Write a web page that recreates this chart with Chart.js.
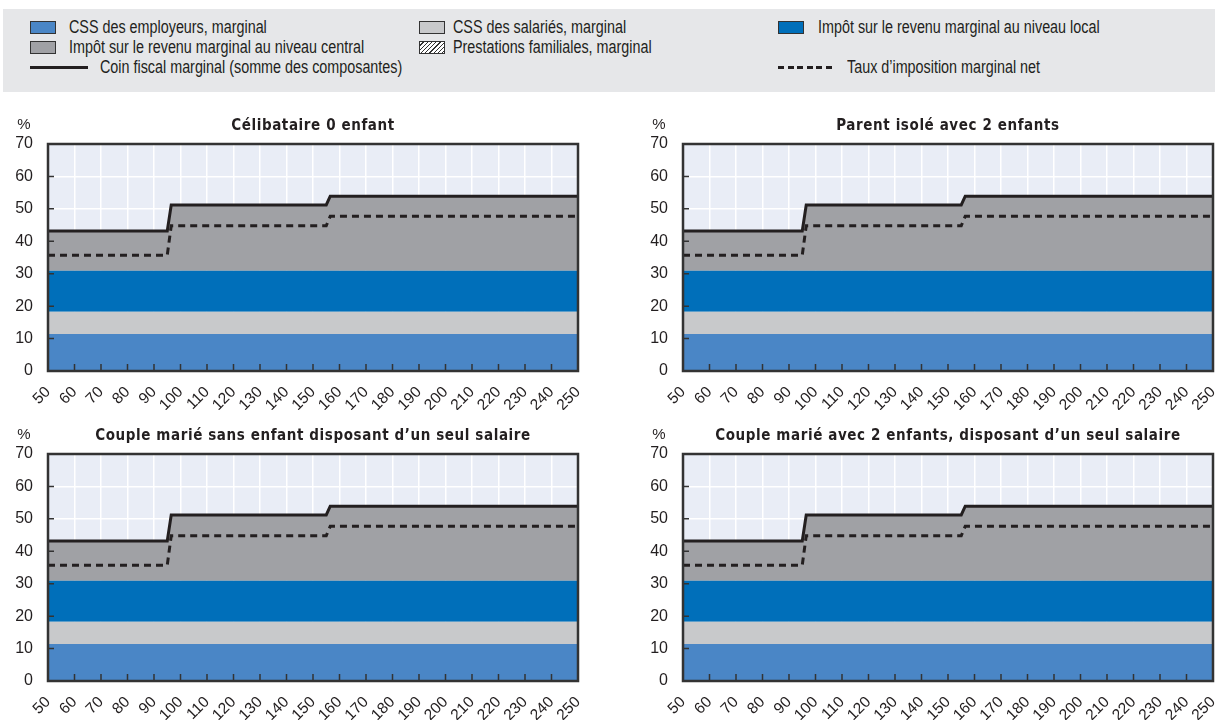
<!DOCTYPE html>
<html lang="fr">
<head>
<meta charset="utf-8">
<script src="https://cdn.jsdelivr.net/npm/chart.js@4.4.1/dist/chart.umd.min.js"></script>
<style>
  body { margin: 0; width: 1218px; height: 722px; background: #fff; position: relative; overflow: hidden;
         font-family: "Liberation Sans", Arial, sans-serif; color: #231f20; }
  #legend { position: absolute; left: 3px; top: 9px; width: 1212px; height: 83px; background: #e6e7e9; }
  .sw { position: absolute; width: 24px; height: 11px; border: 1px solid #333; }
  .txt { position: absolute; font-size: 17.5px; line-height: 20px; white-space: nowrap;
         transform: scaleX(0.82); transform-origin: 0 50%; }
  .ln { position: absolute; height: 3px; }
  .panel { position: absolute; }
</style>
</head>
<body>
<div id="legend">
  <div class="sw" style="left:27px;top:12px;background:#4a86c6"></div>
  <div class="txt" style="left:66px;top:8px">CSS des employeurs, marginal</div>
  <div class="sw" style="left:27px;top:32px;background:#a0a1a5"></div>
  <div class="txt" style="left:66px;top:28px">Impôt sur le revenu marginal au niveau central</div>
  <div class="ln" style="left:27px;top:57px;width:58px;background:#231f20"></div>
  <div class="txt" style="left:97px;top:48px">Coin fiscal marginal (somme des composantes)</div>

  <div class="sw" style="left:416px;top:12px;background:#c8c9cb"></div>
  <div class="txt" style="left:450px;top:8px">CSS des salariés, marginal</div>
  <div class="sw" style="left:416px;top:32px;background:repeating-linear-gradient(135deg,#fff 0 2px,#333 2px 3px)"></div>
  <div class="txt" style="left:450px;top:28px">Prestations familiales, marginal</div>

  <div class="sw" style="left:775px;top:12px;background:#006fba"></div>
  <div class="txt" style="left:815px;top:8px">Impôt sur le revenu marginal au niveau local</div>
  <div class="ln" style="left:775px;top:57px;width:54px;background:repeating-linear-gradient(90deg,#231f20 0 6px,transparent 6px 9.6px)"></div>
  <div class="txt" style="left:844px;top:48px">Taux d’imposition marginal net</div>
</div>

<div class="panel" style="left:0;top:100px;width:609px;height:310px"><canvas id="c1"></canvas></div>
<div class="panel" style="left:635px;top:100px;width:609px;height:310px"><canvas id="c2"></canvas></div>
<div class="panel" style="left:0;top:410px;width:609px;height:310px"><canvas id="c3"></canvas></div>
<div class="panel" style="left:635px;top:410px;width:609px;height:310px"><canvas id="c4"></canvas></div>

<script>
// salaire brut en % du salaire moyen
const earnings = [50, 95, 96.5, 155, 156.5, 250];

// composantes (points de %), empilées
const cssEmployeurs = [11.4, 11.4, 11.4, 11.4, 11.4, 11.4];
const cssSalaries   = [6.9, 6.9, 6.9, 6.9, 6.9, 6.9];
const impotLocal    = [12.6, 12.6, 12.6, 12.6, 12.6, 12.6];
const impotCentral  = [12.3, 12.3, 20.3, 20.3, 23.0, 23.0];

// totaux
const coinFiscal = [43.2, 43.2, 51.2, 51.2, 53.9, 53.9];
const tauxNet    = [35.7, 35.7, 44.8, 44.8, 47.7, 47.7];

const yTicks = [0, 10, 20, 30, 40, 50, 60, 70];

const panels = [
    { id: 'c1', title: 'Célibataire 0 enfant' },
    { id: 'c2', title: 'Parent isolé avec 2 enfants' },
    { id: 'c3', title: 'Couple marié sans enfant disposant d’un seul salaire' },
    { id: 'c4', title: 'Couple marié avec 2 enfants, disposant d’un seul salaire' }
];

const FONT = '"Liberation Sans", Arial, sans-serif';
const TITLE_FONT = '"DejaVu Sans Condensed", "Liberation Sans", sans-serif';
const toXY = arr => earnings.map((x, i) => ({ x: x, y: arr[i] }));

// fond, titre, %, cadre et graduations intérieures
const decorPlugin = {
    id: 'decor',
    beforeDraw(chart) {
        const { ctx, chartArea: a } = chart;
        ctx.save();
        ctx.fillStyle = '#e9edf6';
        ctx.fillRect(a.left, a.top, a.right - a.left, a.bottom - a.top);
        ctx.restore();
    },
    afterDatasetsDraw(chart, args, opts) {
        const { ctx, chartArea: a, scales } = chart;
        ctx.save();
        ctx.strokeStyle = '#333';
        ctx.lineWidth = 1.5;
        ctx.beginPath();
        scales.x.ticks.forEach(t => {
            const px = scales.x.getPixelForValue(t.value);
            ctx.moveTo(px, a.bottom);
            ctx.lineTo(px, a.bottom - 7);
        });
        scales.y.ticks.forEach(t => {
            const py = scales.y.getPixelForValue(t.value);
            ctx.moveTo(a.left, py);
            ctx.lineTo(a.left + 6, py);
        });
        ctx.stroke();
        ctx.lineWidth = 2.5;
        ctx.strokeRect(a.left, a.top, a.right - a.left, a.bottom - a.top);

        ctx.fillStyle = '#231f20';
        ctx.textBaseline = 'middle';
        ctx.textAlign = 'center';
        ctx.font = 'bold 15px ' + TITLE_FONT;
        if ('letterSpacing' in ctx) ctx.letterSpacing = '0.6px';
        ctx.fillText(opts.title, (a.left + a.right) / 2, a.top - 18);
        if ('letterSpacing' in ctx) ctx.letterSpacing = '0px';
        ctx.font = '15px ' + FONT;
        ctx.fillText('%', a.left - 24, a.top - 19);
        ctx.restore();
    }
};

function createPanel(p) {
    const ctx = document.getElementById(p.id).getContext('2d');
    new Chart(ctx, {
        type: 'line',
        data: {
            datasets: [
                {
                    label: 'Coin fiscal marginal (somme des composantes)',
                    data: toXY(coinFiscal),
                    stack: 'coin',
                    borderColor: '#231f20',
                    borderWidth: 3,
                    fill: false,
                    order: 0
                },
                {
                    label: 'Taux d’imposition marginal net',
                    data: toXY(tauxNet),
                    stack: 'net',
                    borderColor: '#231f20',
                    borderWidth: 3,
                    borderDash: [7, 5],
                    fill: false,
                    order: 0
                },
                {
                    label: 'CSS des employeurs, marginal',
                    data: toXY(cssEmployeurs),
                    stack: 'comp',
                    backgroundColor: '#4a86c6',
                    borderWidth: 0,
                    fill: 'origin',
                    order: 1
                },
                {
                    label: 'CSS des salariés, marginal',
                    data: toXY(cssSalaries),
                    stack: 'comp',
                    backgroundColor: '#c8c9cb',
                    borderWidth: 0,
                    fill: '-1',
                    order: 1
                },
                {
                    label: 'Impôt sur le revenu marginal au niveau local',
                    data: toXY(impotLocal),
                    stack: 'comp',
                    backgroundColor: '#006fba',
                    borderWidth: 0,
                    fill: '-1',
                    order: 1
                },
                {
                    label: 'Impôt sur le revenu marginal au niveau central',
                    data: toXY(impotCentral),
                    stack: 'comp',
                    backgroundColor: '#a0a1a5',
                    borderWidth: 0,
                    fill: '-1',
                    order: 1
                }
            ]
        },
        options: {
            responsive: true,
            maintainAspectRatio: false,
            animation: false,
            elements: { point: { radius: 0 }, line: { tension: 0 } },
            layout: { padding: { top: 44, right: 31, left: 0, bottom: 0 } },
            plugins: {
                legend: { display: false },
                tooltip: { enabled: false },
                decor: { title: p.title }
            },
            scales: {
                x: {
                    type: 'linear',
                    min: 50,
                    max: 250,
                    afterFit: s => { s.height = 39; },
                    grid: { color: '#ffffff', lineWidth: 1.5, drawTicks: false },
                    border: { display: false },
                    ticks: {
                        stepSize: 10,
                        autoSkip: false,
                        minRotation: 45,
                        maxRotation: 45,
                        padding: 12,
                        color: '#231f20',
                        font: { family: FONT, size: 15.5 }
                    }
                },
                y: {
                    stacked: true,
                    min: 0,
                    max: 70,
                    afterFit: s => { s.width = 48; },
                    afterBuildTicks: s => { s.ticks = yTicks.map(v => ({ value: v })); },
                    grid: { color: '#ffffff', lineWidth: 1.5, drawTicks: false },
                    border: { display: false },
                    ticks: {
                        padding: 15,
                        color: '#231f20',
                        font: { family: FONT, size: 16 }
                    }
                }
            }
        },
        plugins: [decorPlugin]
    });
}

panels.forEach(createPanel);
</script>
</body>
</html>
